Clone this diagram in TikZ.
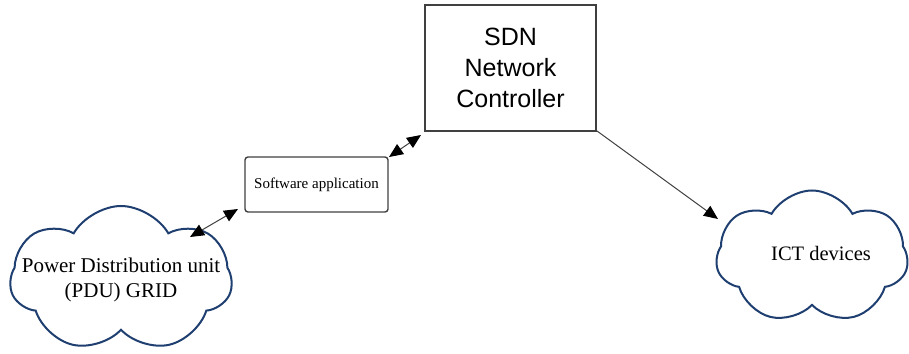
\documentclass[tikz,border=0pt]{standalone}
\usepackage{fontspec}
\setmainfont{Liberation Serif}
\newfontfamily\helv{Liberation Sans}
\usetikzlibrary{shapes.symbols,arrows.meta}
\definecolor{cloudblue}{HTML}{1F3F70}
\definecolor{linegray}{HTML}{404040}
\tikzset{
  cloudnode/.style={cloud, draw=cloudblue, line width=2pt, cloud puffs=7, cloud puff arc=120, inner sep=0pt},
  cloudtext/.style={align=center, font=\fontsize{21}{25}\selectfont},
  sdnbox/.style={draw=linegray, line width=2pt, minimum width=171pt, minimum height=126pt, align=center, font=\helv\fontsize{25}{31}\selectfont},
  appbox/.style={draw=linegray, line width=1.4pt, rounded corners=3pt, minimum width=143pt, minimum height=55pt, font=\fontsize{15}{17}\selectfont},
  conn/.style={draw=linegray, line width=1pt},
  tip/.style={-{Triangle[length=14pt,width=12pt,color=black]}},
  tips/.style={{Triangle[length=14pt,width=12pt,color=black]}-{Triangle[length=14pt,width=12pt,color=black]}},
}
\begin{document}
\begin{tikzpicture}[x=1pt,y=-1pt]
\useasboundingbox (0,0) rectangle (909,353);
\node[sdnbox] (sdn) at (510.5,68) {SDN\\Network\\Controller};
\node[appbox] (app) at (316.5,184.5) {Software application};
\node[cloudnode, minimum width=222pt, minimum height=146pt] (pdu) at (121,279) {};
\node[cloudtext] (pdutext) at (121,280) {Power Distribution unit\\(PDU) GRID};
\node[cloudnode, minimum width=192pt, minimum height=133pt] (ict) at (812,257) {};
\node[cloudtext, font=\fontsize{20.5}{25}\selectfont] (icttext) at (821,253) {ICT devices};
\coordinate (a1) at (190,237);
\coordinate (a2) at (238,209);
\coordinate (b1) at (389,157);
\coordinate (b2) at (421,135);
\coordinate (c1) at (597,131);
\coordinate (c2) at (718,219);
\draw[conn,tips] (a1) -- (a2);
\draw[conn,tips] (b1) -- (b2);
\draw[conn,tip] (c1) -- (c2);
\end{tikzpicture}
\end{document}
